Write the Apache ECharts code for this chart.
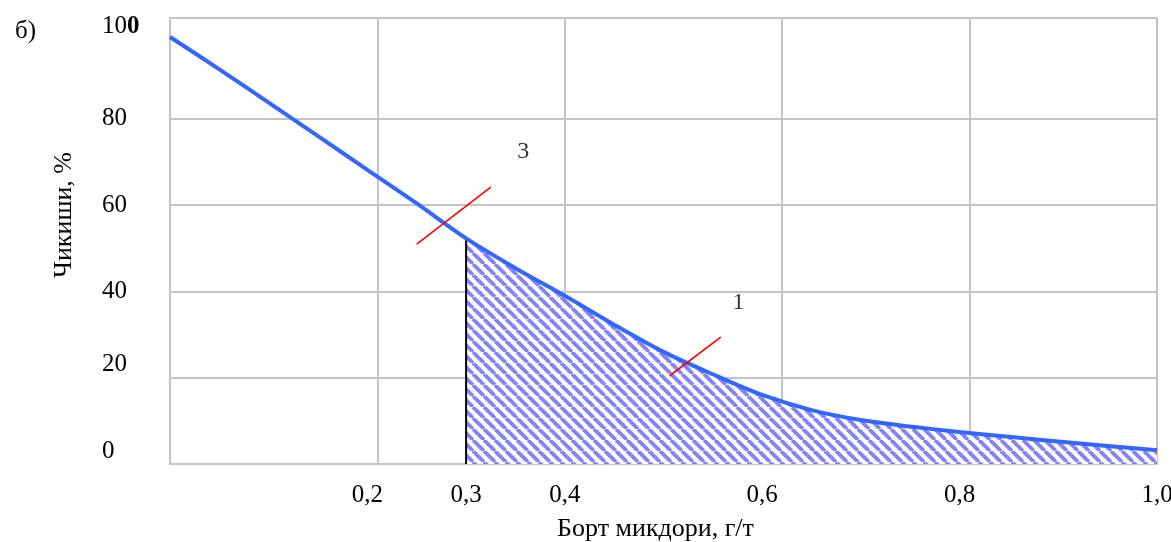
<!DOCTYPE html>
<html><head><meta charset="utf-8">
<script src="https://cdn.jsdelivr.net/npm/echarts@6/dist/echarts.min.js"></script>
<style>html,body{margin:0;padding:0;background:#fff}#c{width:1171px;height:542px}</style>
</head><body><div id="c"></div>
<script>
// Data
var curveX = [0, 0.05, 0.1, 0.15, 0.2, 0.25, 0.3, 0.35, 0.4, 0.45, 0.5, 0.55, 0.6, 0.65, 0.7, 0.75, 0.8, 0.85, 0.9, 0.95, 1.0];
var curveY = [99, 91.5, 83.8, 76, 68.2, 60.4, 52.3, 45.4, 39, 32.3, 26, 20.8, 16, 12.5, 10.2, 8.7, 7.4, 6.3, 5.2, 4.2, 3.2];
var cutoff = 0.3;
var gridX = [0.212, 0.404, 0.619, 0.81];
var gridY = [20, 40, 60, 80];
var xTickValues = [0.2, 0.3, 0.4, 0.6, 0.8, 1.0];
var xTickLabels = ['0,2', '0,3', '0,4', '0,6', '0,8', '1,0'];
var yTickValues = [0, 20, 40, 60, 80, 100];
var marker3 = [[0.25, 51.0], [0.325, 64.2]];
var marker1 = [[0.506, 20.4], [0.558, 29.4]];
var labelPoints = [[0.358, 72.3, '3'], [0.576, 37.5, '1']];

var font = 'Liberation Serif';
var curve = curveX.map(function (x, i) { return [x, curveY[i]]; });
var area = curve.filter(function (p) { return p[0] >= cutoff - 1e-9; });
var cutY = curveY[curveX.indexOf(cutoff)];

var pc = document.createElement('canvas');
pc.width = 11; pc.height = 11;
var g = pc.getContext('2d');
g.fillStyle = '#ffffff'; g.fillRect(0, 0, 11, 11);
g.strokeStyle = '#8484f8'; g.lineWidth = 3.8;
[-11, 0, 11].forEach(function (x0) { g.beginPath(); g.moveTo(x0, 0); g.lineTo(x0 + 11, 11); g.stroke(); });

var chart = echarts.init(document.getElementById('c'));
chart.setOption({
  animation: false,
  textStyle: { fontFamily: font, color: '#000' },
  title: { text: 'б)', left: 10, top: 14, textStyle: { fontFamily: font, fontSize: 25, fontWeight: 'normal', color: '#000' } },
  grid: { left: 170, right: 14, top: 18, bottom: 78, show: true, borderColor: '#c4c4c4', borderWidth: 2,
    containLabel: false, outerBoundsMode: 'none' },
  xAxis: {
    type: 'value', min: 0, max: 1, interval: 0.1,
    name: 'Борт микдори, г/т', nameLocation: 'middle', nameGap: 52,
    nameTextStyle: { fontFamily: font, fontSize: 26, color: '#000', padding: [0, 16, 0, 0] },
    axisLine: { show: true, lineStyle: { color: '#c4c4c4', width: 2 } },
    axisTick: { show: false }, splitLine: { show: false },
    axisLabel: { margin: 19, fontFamily: font, fontSize: 25, color: '#000', showMaxLabel: true,
      formatter: function (v) { var r = Math.round(v * 10) / 10; var i = xTickValues.indexOf(r); return i >= 0 ? xTickLabels[i] : ''; } }
  },
  yAxis: {
    type: 'value', min: 0, max: 103.4, interval: 20,
    name: 'Чикиши, %', nameLocation: 'middle', nameGap: 93,
    nameTextStyle: { fontFamily: font, fontSize: 26, color: '#000', padding: [0, 0, 0, 52] },
    axisLine: { show: false }, axisTick: { show: false },
    splitLine: { show: false },
    axisLabel: { margin: 68, align: 'left', fontFamily: font, fontSize: 25, color: '#000',
      formatter: function (v) {
        var r = Math.round(v);
        if (yTickValues.indexOf(r) < 0 || Math.abs(v - r) > 1e-6) return '';
        if (r === 100) return '{t|10}{b|0}';
        if (r <= 20) return '{u|' + r + '}';
        return String(r);
      },
      rich: {
        t: { fontFamily: font, fontSize: 25, color: '#000', padding: [0, 0, 12, 0] },
        b: { fontFamily: font, fontSize: 25, fontWeight: 'bold', color: '#000', padding: [0, 0, 12, 0] },
        u: { fontFamily: font, fontSize: 25, color: '#000', padding: [0, 0, 26, 0] }
      } }
  },
  series: [
    { type: 'line', data: area, smooth: 0.3, symbol: 'none', z: 2,
      lineStyle: { color: '#b0b0b0', width: 1.5 },
      areaStyle: { color: { image: pc, repeat: 'repeat' }, opacity: 1 },
      markLine: { silent: true, symbol: 'none', label: { show: false }, z: 1,
        lineStyle: { color: '#c4c4c4', width: 2, type: 'solid' },
        data: gridX.map(function (x) { return { xAxis: x }; }).concat(gridY.map(function (y) { return { yAxis: y }; })) } },
    { type: 'line', data: [[cutoff, 0], [cutoff, cutY]], symbol: 'none', z: 4,
      lineStyle: { color: '#000', width: 2 } },
    { type: 'line', data: curve, smooth: 0.3, symbol: 'none', z: 5,
      lineStyle: { color: '#3366ff', width: 4 } },
    { type: 'line', data: marker3, symbol: 'none', z: 6, lineStyle: { color: '#ff0000', width: 1.6 } },
    { type: 'line', data: marker1, symbol: 'none', z: 6, lineStyle: { color: '#ff0000', width: 1.6 } },
    { type: 'scatter', data: labelPoints, symbolSize: 0, z: 7,
      label: { show: true, position: 'inside', fontFamily: font, fontSize: 24, color: '#000',
        formatter: function (p) { return p.data[2]; } } }
  ]
});
</script></body></html>
